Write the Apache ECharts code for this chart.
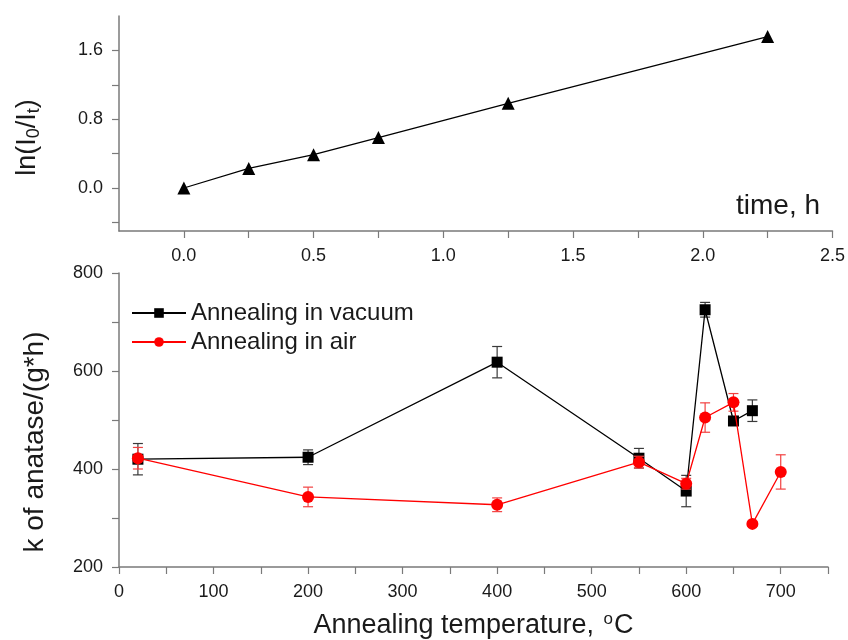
<!DOCTYPE html>
<html>
<head>
<meta charset="utf-8">
<script src="https://cdn.jsdelivr.net/npm/echarts@6/dist/echarts.min.js"></script>
<style>html,body{margin:0;padding:0;background:#fff}#c{width:848px;height:640px}</style>
</head>
<body>
<div id="c"></div>
<script>
// ---- top panel data ----
var timeH = [0, 0.25, 0.5, 0.75, 1.25, 2.25];
var lnRatio = [0, 0.228, 0.388, 0.586, 0.985, 1.761];
var topXTicks = [0, 0.25, 0.5, 0.75, 1.0, 1.25, 1.5, 1.75, 2.0, 2.25, 2.5];
var topXLabels = [0, 0.5, 1.0, 1.5, 2.0, 2.5];
var topYTicks = [-0.4, 0, 0.4, 0.8, 1.2, 1.6];
var topYLabels = [0, 0.8, 1.6];

// ---- bottom panel data ----
var tempVac = [20, 200, 400, 550, 600, 620, 650, 670];
var kVac = [420, 424, 618, 422, 355, 725, 498, 519];
var errVac = [32, 15, 32, 20, 32, 15, 8, 22];
var tempAir = [20, 200, 400, 550, 600, 620, 650, 670, 700];
var kAir = [422, 343, 327, 414, 370, 505, 536, 288, 394];
var errAir = [22, 20, 14, 12, 11, 30, 18, 5, 35];
var botXTicks = [0, 50, 100, 150, 200, 250, 300, 350, 400, 450, 500, 550, 600, 650, 700, 750];
var botXLabels = [0, 100, 200, 300, 400, 500, 600, 700];
var botYTicks = [200, 300, 400, 500, 600, 700, 800];
var botYLabels = [200, 400, 600, 800];

var FONT = 'Liberation Sans, Arial, sans-serif';
var AX = '#7a7a7a';
var TXT = '#1a1a1a';

function pairs(xs, ys) { return xs.map(function (x, i) { return [x, ys[i]]; }); }
function errData(xs, ys, es) { return xs.map(function (x, i) { return [x, ys[i] - es[i], ys[i] + es[i]]; }); }

function errRender(color) {
  return function (params, api) {
    var x = api.value(0);
    var lo = api.coord([x, api.value(1)]);
    var hi = api.coord([x, api.value(2)]);
    var hw = 5;
    var st = { stroke: color, lineWidth: 1.2 };
    return {
      type: 'group',
      children: [
        { type: 'line', shape: { x1: lo[0], y1: lo[1], x2: hi[0], y2: hi[1] }, style: st },
        { type: 'line', shape: { x1: lo[0] - hw, y1: lo[1], x2: lo[0] + hw, y2: lo[1] }, style: st },
        { type: 'line', shape: { x1: hi[0] - hw, y1: hi[1], x2: hi[0] + hw, y2: hi[1] }, style: st }
      ]
    };
  };
}

function axisCommon() {
  return {
    axisLine: { show: true, onZero: false, lineStyle: { color: AX, width: 1.5 } },
    axisTick: { show: true, length: 7, lineStyle: { color: AX, width: 1.2 } },
    axisLabel: { color: TXT, fontSize: 18, fontFamily: FONT, margin: 16 },
    splitLine: { show: false }
  };
}

var chart = echarts.init(document.getElementById('c'), null, { renderer: 'canvas' });

var xTop = axisCommon();
xTop.axisTick.customValues = topXTicks;
xTop.axisLabel.customValues = topXLabels;
xTop.axisLabel.formatter = function (v) { return v.toFixed(1); };
var yTop = axisCommon();
yTop.axisTick.customValues = topYTicks;
yTop.axisLabel.customValues = topYLabels;
yTop.axisLabel.formatter = function (v) { return v.toFixed(1); };
var xBot = axisCommon();
xBot.axisTick.customValues = botXTicks;
xBot.axisLabel.customValues = botXLabels;
var yBot = axisCommon();
yBot.axisTick.customValues = botYTicks;
yBot.axisLabel.customValues = botYLabels;

var option = {
  animation: false,
  backgroundColor: '#fff',
  grid: [
    { left: 119, right: 14, top: 16, height: 215 },
    { left: 119, right: 20, top: 273, height: 295 }
  ],
  xAxis: [
    Object.assign(xTop, { type: 'value', gridIndex: 0, min: -0.25, max: 2.5 }),
    Object.assign(xBot, {
      type: 'value', gridIndex: 1, min: 0, max: 750,
      name: 'Annealing temperature, {sup|o}C',
      nameLocation: 'middle', nameGap: 44,
      nameTextStyle: {
        color: TXT, fontSize: 27, fontFamily: FONT,
        rich: { sup: { fontSize: 17, fontFamily: FONT, color: TXT, verticalAlign: 'top', padding: [0, 1, 12, 2] } }
      }
    })
  ],
  yAxis: [
    Object.assign(yTop, {
      type: 'value', gridIndex: 0, min: -0.5, max: 2.0,
      name: 'ln(I{sub|0}/I{sub|t})',
      nameLocation: 'middle', nameRotate: 90, nameGap: 76,
      nameTextStyle: {
        color: TXT, fontSize: 27, fontFamily: FONT, padding: [0, 28, 0, 0],
        rich: { sub: { fontSize: 18, fontFamily: FONT, color: TXT, verticalAlign: 'bottom', padding: [12, 0, 0, 0] } }
      }
    }),
    Object.assign(yBot, {
      type: 'value', gridIndex: 1, min: 200, max: 800,
      name: 'k of anatase/(g*h)',
      nameLocation: 'middle', nameRotate: 90, nameGap: 70,
      nameTextStyle: { color: TXT, fontSize: 28, fontFamily: FONT, padding: [0, 44, 0, 0] }
    })
  ],
  legend: {
    orient: 'vertical', left: 126, top: 296,
    itemWidth: 54, itemHeight: 12, itemGap: 5,
    textStyle: { color: TXT, fontSize: 24, fontFamily: FONT },
    data: ['Annealing in vacuum', 'Annealing in air']
  },
  graphic: [
    { type: 'text', left: 736, top: 192, style: { text: 'time, h', fontSize: 28, fontFamily: FONT, fill: TXT } }
  ],
  series: [
    {
      type: 'line', xAxisIndex: 0, yAxisIndex: 0, data: pairs(timeH, lnRatio),
      symbol: 'triangle', symbolSize: 13, itemStyle: { color: '#000' },
      lineStyle: { color: '#000', width: 1.3 }, z: 3
    },
    {
      type: 'custom', xAxisIndex: 1, yAxisIndex: 1, data: errData(tempVac, kVac, errVac),
      renderItem: errRender('#3a3a3a'), z: 2, silent: true
    },
    {
      name: 'Annealing in vacuum', type: 'line', xAxisIndex: 1, yAxisIndex: 1, data: pairs(tempVac, kVac),
      symbol: 'rect', symbolSize: 11, itemStyle: { color: '#000' },
      lineStyle: { color: '#000', width: 1.3 }, z: 3
    },
    {
      type: 'custom', xAxisIndex: 1, yAxisIndex: 1, data: errData(tempAir, kAir, errAir),
      renderItem: errRender('#f24040'), z: 4, silent: true
    },
    {
      name: 'Annealing in air', type: 'line', xAxisIndex: 1, yAxisIndex: 1, data: pairs(tempAir, kAir),
      symbol: 'circle', symbolSize: 12, itemStyle: { color: '#ff0000' },
      lineStyle: { color: '#ff0000', width: 1.3 }, z: 5
    }
  ]
};
chart.setOption(option);
</script>
</body>
</html>
